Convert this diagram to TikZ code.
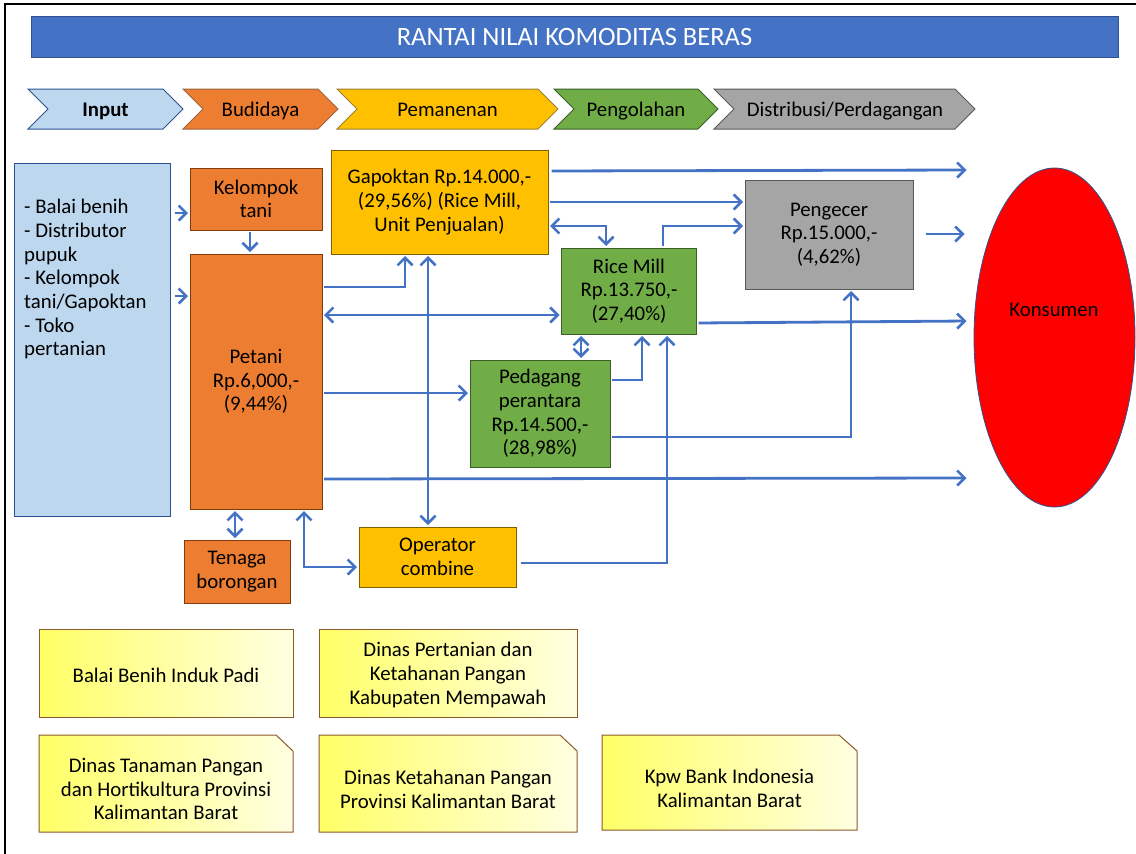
\documentclass[tikz,border=0pt]{standalone}
\usepackage{fontspec}
\setmainfont{Carlito}
\usetikzlibrary{arrows.meta,shapes.geometric}
\definecolor{arrblue}{HTML}{4472C4}
\definecolor{titleblue}{HTML}{4472C4}
\definecolor{titleedge}{HTML}{2F528F}
\definecolor{lblue}{HTML}{BDD7EE}
\definecolor{lblueedge}{HTML}{2F528F}
\definecolor{orangef}{HTML}{ED7D31}
\definecolor{orangee}{HTML}{843C0C}
\definecolor{goldf}{HTML}{FFC000}
\definecolor{golde}{HTML}{7F6000}
\definecolor{greenf}{HTML}{70AD47}
\definecolor{greene}{HTML}{3B5E27}
\definecolor{grayf}{HTML}{A5A5A5}
\definecolor{graye}{HTML}{595959}
\definecolor{notel}{HTML}{FFFF66}
\definecolor{noter}{HTML}{FFFFE2}
\definecolor{notee}{HTML}{8B5A2B}
\newcommand\bodyfont{\fontsize{20.8}{23.7}\selectfont}
\tikzset{
  box/.style={draw, line width=1pt, align=center, inner sep=0pt, font=\bodyfont},
  chev/.style={draw, line width=1pt},
  chevtext/.style={font=\bodyfont, inner sep=0pt, anchor=base},
  arr/.style={draw=arrblue, line width=2.8pt, -{Straight Barb[length=7.5pt,width=15pt,line width=2.6pt]}, shorten >=1.5pt, shorten <=1.5pt},
  darr/.style={draw=arrblue, line width=2.8pt, {Straight Barb[length=7.5pt,width=15pt,line width=2.6pt]}-{Straight Barb[length=7.5pt,width=15pt,line width=2.6pt]}, shorten >=1.5pt, shorten <=1.5pt},
  notebox/.style={draw=notee, line width=1pt, left color=notel, right color=noter},
  notetext/.style={font=\bodyfont, align=center, inner sep=0pt}
}
\begin{document}
\begin{tikzpicture}[x=1pt,y=-1pt]
\useasboundingbox (0,0) rectangle (1136,854);
% frame
\draw[line width=1.5pt] (5,854) -- (5,4) -- (1136,4);
% title
\node[draw=titleedge, fill=titleblue, line width=1pt, minimum width=1087pt, minimum height=41pt, inner sep=0pt,
  font=\fontsize{26.5}{30}\selectfont, text=white] (title) at (574.5,37) {RANTAI NILAI KOMODITAS BERAS};
% chevrons
\path[chev, fill=lblue, draw=titleedge] (28,89) -- (163,89) -- (183,109) -- (163,129) -- (28,129) -- (48,109) -- cycle;
\node[chevtext, font=\bodyfont\bfseries] (cinput) at (105.5,116) {Input};
\path[chev, fill=orangef, draw=orangee!80] (183,89) -- (318,89) -- (338,109) -- (318,129) -- (183,129) -- (203,109) -- cycle;
\node[chevtext] (cbudi) at (260.5,116) {Budidaya};
\path[chev, fill=goldf, draw=golde!80] (337,89) -- (538,89) -- (558,109) -- (538,129) -- (337,129) -- (357,109) -- cycle;
\node[chevtext] (cpanen) at (447.5,116) {Pemanenan};
\path[chev, fill=greenf, draw=greene] (554,89) -- (698,89) -- (718,109) -- (698,129) -- (554,129) -- (574,109) -- cycle;
\node[chevtext] (colah) at (636,116) {Pengolahan};
\path[chev, fill=grayf, draw=graye] (714,89) -- (955,89) -- (975,109) -- (955,129) -- (714,129) -- (734,109) -- cycle;
\node[chevtext] (cdist) at (845,116) {Distribusi/Perdagangan};
% main boxes
\node[box, fill=lblue, draw=lblueedge, minimum width=156pt, minimum height=353pt] (inputbox) at (92,339.5) {};
\node[font=\bodyfont, align=left, inner sep=0pt, anchor=north west] (inputtext) at (24,199)
  {- Balai benih\\- Distributor\\pupuk\\- Kelompok\\tani/Gapoktan\\- Toko\\pertanian};
\node[box, fill=orangef, draw=orangee, minimum width=132pt, minimum height=62pt] (kelompok) at (256,199) {Kelompok\\tani};
\node[box, fill=orangef, draw=orangee, minimum width=132pt, minimum height=255pt] (petani) at (256,381.5) {Petani\\Rp.6,000,-\\(9,44\%)};
\node[box, fill=goldf, draw=golde, minimum width=217pt, minimum height=104pt] (gapoktan) at (439.5,202) {Gapoktan Rp.14.000,-\\(29,56\%) (Rice Mill,\\Unit Penjualan)};
\node[box, fill=greenf, draw=greene, minimum width=135pt, minimum height=86pt] (ricemill) at (629,291) {Rice Mill\\Rp.13.750,-\\(27,40\%)};
\node[box, fill=grayf, draw=graye, minimum width=168pt, minimum height=109pt] (pengecer) at (829,234.5) {Pengecer\\Rp.15.000,-\\(4,62\%)};
\node[box, fill=greenf, draw=greene, minimum width=140pt, minimum height=107pt] (pedagang) at (540,413.5) {Pedagang\\perantara\\Rp.14.500,-\\(28,98\%)};
\node[ellipse, draw=titleedge, line width=0.8pt, fill=red, minimum width=161pt, minimum height=339pt, inner sep=0pt] (konsumen) at (1054.5,337.5) {};
\node[font=\bodyfont, inner sep=0pt] (konsumentext) at (1054,310) {Konsumen};
\node[box, fill=orangef, draw=orangee, minimum width=106pt, minimum height=63pt] (tenaga) at (237,571.5) {Tenaga\\borongan};
\node[box, fill=goldf, draw=golde, minimum width=157pt, minimum height=60pt] (operator) at (437.5,557) {Operator\\combine};
% consumer entry points
\coordinate (k1) at (968,170);
\coordinate (k2) at (966,234);
\coordinate (k3) at (968,321);
\coordinate (k4) at (968,478);
% arrows
\draw[arr, shorten <=4pt] (inputbox.east |- 0,213) -- (kelompok.west |- 0,213);
\draw[arr, shorten <=4pt] (inputbox.east |- 0,296) -- (petani.west |- 0,296);
\draw[arr] (kelompok.south -| 250,0) -- (petani.north -| 250,0);
\draw[arr] (petani.east |- 0,287) -| (gapoktan.south -| 405,0);
\draw[darr] (petani.east |- 0,315) -- (ricemill.west |- 0,315);
\draw[arr] (petani.east |- 0,393) -- (pedagang.west |- 0,393);
\draw[arr] (petani.east |- 0,479) -- (k4);
\draw[arr, shorten <=3pt] (gapoktan.east |- 0,171) -- (k1);
\draw[arr] (gapoktan.east |- 0,202) -- (pengecer.west |- 0,202);
\draw[darr] (gapoktan.east |- 0,226) -| (ricemill.north -| 606,0);
\draw[arr] (ricemill.north -| 663,0) |- (pengecer.west |- 0,226);
\draw[arr, shorten <=12pt] (pengecer.east |- 0,234) -- (k2);
\draw[arr] (ricemill.east |- 0,323) -- (k3);
\draw[darr] (pedagang.north -| 581,0) -- (ricemill.south -| 581,0);
\draw[arr] (pedagang.east |- 0,380) -| (ricemill.south -| 642,0);
\draw[arr] (pedagang.east |- 0,437) -| (pengecer.south -| 851,0);
\draw[darr] (gapoktan.south -| 428,0) -- (operator.north -| 428,0);
\draw[arr, shorten <=4pt] (operator.east |- 0,563) -| (ricemill.south -| 667,0);
\draw[darr] (petani.south -| 304,0) |- (operator.west |- 0,567);
\draw[darr] (petani.south -| 235,0) -- (tenaga.north -| 235,0);
% notes
\path[notebox] (39,629) rectangle (293,717);
\node[notetext] (note1) at (166,675) {Balai Benih Induk Padi};
\path[notebox] (319,629) rectangle (577,717);
\node[notetext] (note2) at (448,675) {Dinas Pertanian dan\\Ketahanan Pangan\\Kabupaten Mempawah};
\path[notebox] (39,735) -- (276,735) -- (293,751) -- (293,832) -- (39,832) -- cycle;
\node[notetext] (note3) at (166,789) {Dinas Tanaman Pangan\\dan Hortikultura Provinsi\\Kalimantan Barat};
\path[notebox] (319,735) -- (560,735) -- (577,751) -- (577,832) -- (319,832) -- cycle;
\node[notetext] (note4) at (448,789) {Dinas Ketahanan Pangan\\Provinsi Kalimantan Barat};
\path[notebox] (602,735) -- (839,735) -- (857,751) -- (857,830) -- (602,830) -- cycle;
\node[notetext] (note5) at (729.5,788) {Kpw Bank Indonesia\\Kalimantan Barat};
\end{tikzpicture}
\end{document}
